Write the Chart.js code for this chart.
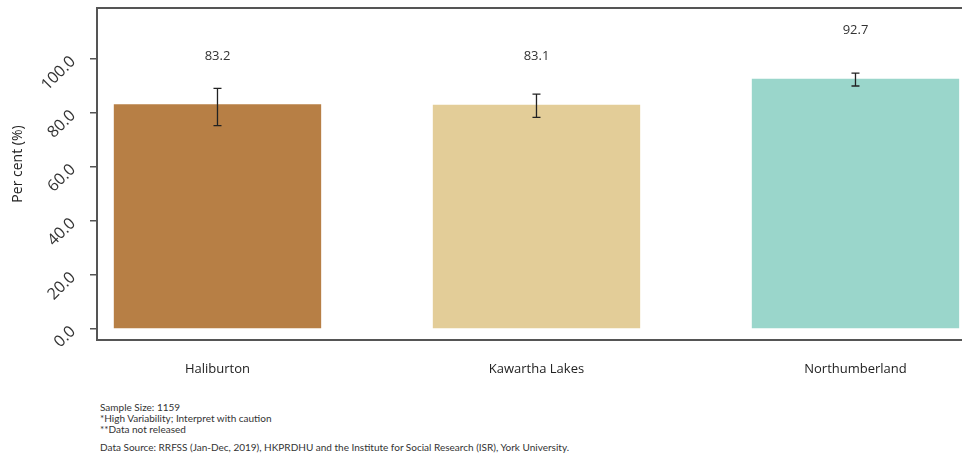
<!DOCTYPE html>
<html>
<head>
<meta charset="utf-8">
<script src="https://cdn.jsdelivr.net/npm/chart.js@4.4.1/dist/chart.umd.min.js"></script>
<style>
  body { margin: 0; background: #fff; }
  #wrap { position: relative; width: 962px; height: 460px; overflow: hidden; }
  #chart { position: absolute; left: 0; top: 0; }
  .note { position: absolute; left: 100px; font-family: "Lato", sans-serif; font-size: 10px; color: #333; white-space: nowrap; }
</style>
</head>
<body>
<div id="wrap">
  <canvas id="chart" width="962" height="395"></canvas>
  <div class="note" style="top:401px">Sample Size: 1159</div>
  <div class="note" style="top:412px">*High Variability; Interpret with caution</div>
  <div class="note" style="top:423px">**Data not released</div>
  <div class="note" style="top:441px">Data Source: RRFSS (Jan-Dec, 2019), HKPRDHU and the Institute for Social Research (ISR), York University.</div>
</div>
<script>
// regions and their estimates
const regions = ['Haliburton', 'Kawartha Lakes', 'Northumberland'];
const percent = [83.2, 83.1, 92.7];
const ciLow = [75.3, 78.4, 90.0];
const ciHigh = [89.1, 87.0, 94.8];
const barColors = ['#B77F45', '#E3CD98', '#9AD6CB'];
const yTicks = [0, 20, 40, 60, 80, 100];

// box around the plot (right side runs off the canvas) and the y title
const frame = {
  id: 'frame',
  afterDraw(chart) {
    const a = chart.chartArea;
    const ctx = chart.ctx;
    ctx.save();
    ctx.strokeStyle = '#555';
    ctx.lineWidth = 2;
    ctx.strokeRect(a.left, a.top, a.right - a.left + 10, a.bottom - a.top);

    ctx.translate(18, 164);
    ctx.rotate(-Math.PI / 2);
    ctx.fillStyle = '#222';
    ctx.font = '14px "Open Sans"';
    ctx.textAlign = 'center';
    ctx.textBaseline = 'middle';
    ctx.fillText('Per cent (%)', 0, 0);
    ctx.restore();
  }
};

// confidence interval whiskers + value labels above bars
const errorBars = {
  id: 'errorBars',
  afterDatasetsDraw(chart) {
    const ctx = chart.ctx;
    const y = chart.scales.y;
    const meta = chart.getDatasetMeta(0);
    ctx.save();
    ctx.strokeStyle = '#222';
    ctx.lineWidth = 1.3;
    meta.data.forEach((bar, i) => {
      const x = bar.x;
      const top = y.getPixelForValue(ciHigh[i]);
      const bot = y.getPixelForValue(ciLow[i]);
      ctx.beginPath();
      ctx.moveTo(x, top); ctx.lineTo(x, bot);
      ctx.moveTo(x - 4, top); ctx.lineTo(x + 4, top);
      ctx.moveTo(x - 4, bot); ctx.lineTo(x + 4, bot);
      ctx.stroke();

      ctx.fillStyle = '#333';
      ctx.font = '13px "Open Sans"';
      ctx.textAlign = 'center';
      ctx.textBaseline = 'middle';
      ctx.fillText(percent[i].toFixed(1), x, bar.y - 48);
    });
    ctx.restore();
  }
};

new Chart(document.getElementById('chart'), {
  type: 'bar',
  data: {
    datasets: [{
      data: percent.map((v, i) => ({ x: i + 1, y: v })),
      backgroundColor: barColors,
      barPercentage: 1,
      categoryPercentage: 0.65
    }]
  },
  options: {
    responsive: false,
    animation: false,
    layout: { padding: { top: 8, left: 0, right: 0, bottom: 0 } },
    plugins: { legend: { display: false }, tooltip: { enabled: false } },
    scales: {
      x: {
        type: 'linear',
        offset: false,
        min: 0.6223,
        max: 3.3339,
        grid: { display: false },
        border: { display: false },
        afterBuildTicks: s => { s.ticks = regions.map((r, i) => ({ value: i + 1 })); },
        afterFit: s => { s.height = 55; s.paddingLeft = 0; s.paddingRight = 0; },
        ticks: {
          callback: v => regions[v - 1],
          font: { family: 'Open Sans', size: 13 },
          color: '#222',
          padding: 13,
          maxRotation: 0,
          autoSkip: false
        }
      },
      y: {
        min: -4.1,
        max: 118.9,
        afterBuildTicks: s => { s.ticks = yTicks.map(v => ({ value: v })); },
        afterFit: s => { s.width = 97; s.paddingTop = 0; s.paddingBottom = 0; },
        grid: { drawOnChartArea: false, tickLength: 7, color: '#555', lineWidth: 1.5 },
        border: { display: false },
        ticks: {
          callback: v => v.toFixed(1),
          font: { family: 'Open Sans', size: 16 },
          color: '#333',
          minRotation: 45,
          maxRotation: 45,
          padding: 17
        }
      }
    }
  },
  plugins: [frame, errorBars]
});
</script>
</body>
</html>
